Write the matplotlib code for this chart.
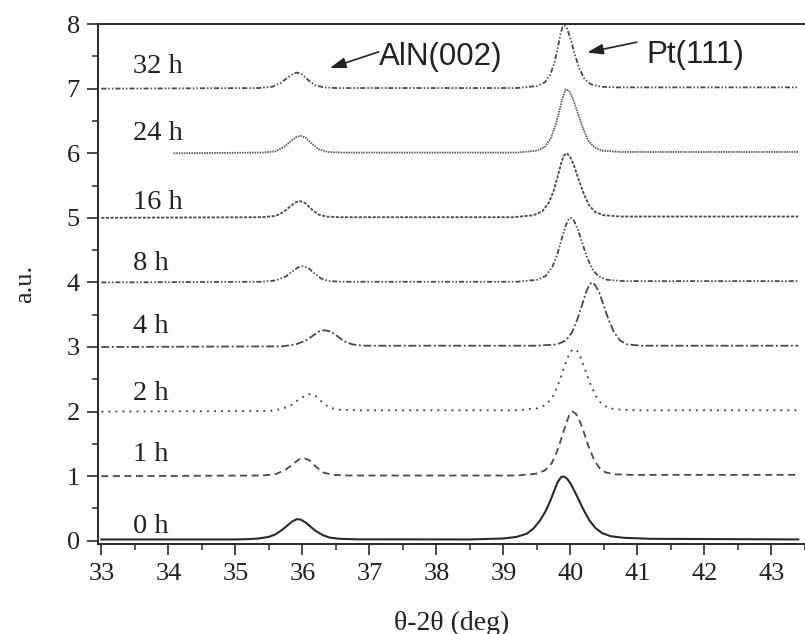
import matplotlib
matplotlib.use("Agg")
import matplotlib.pyplot as plt

# stacked XRD scans, one per annealing time
labels = ["0 h", "1 h", "2 h", "4 h", "8 h", "16 h", "24 h", "32 h"]

x_0h = [33.0, 35.0, 35.2, 35.35, 35.5, 35.6, 35.7, 35.78, 35.85, 35.92, 35.98, 36.05, 36.12, 36.2,
        36.3, 36.4, 36.55, 36.8,
        38.5, 39.0, 39.2, 39.35, 39.45, 39.55, 39.63, 39.7, 39.76, 39.81, 39.86, 39.9, 39.95, 40.0,
        40.06, 40.13, 40.2, 40.28, 40.37, 40.47, 40.6, 40.8, 41.2, 43.4]
y_0h = [0.02, 0.02, 0.025, 0.035, 0.06, 0.10, 0.17, 0.24, 0.30, 0.335, 0.325, 0.28, 0.22, 0.15,
        0.09, 0.05, 0.03, 0.022,
        0.02, 0.035, 0.06, 0.11, 0.19, 0.32, 0.46, 0.62, 0.78, 0.91, 0.985, 0.995, 0.96, 0.89,
        0.77, 0.62, 0.47, 0.32, 0.20, 0.12, 0.07, 0.045, 0.03, 0.02]

x_1h = [33.0, 35.4, 35.6, 35.75, 35.85, 35.95, 36.02, 36.1, 36.2, 36.3, 36.45, 36.7,
        39.2, 39.5, 39.62, 39.72, 39.8, 39.87, 39.93, 39.98, 40.03, 40.08, 40.14, 40.2, 40.27,
        40.35, 40.43, 40.52, 40.65, 40.9, 43.4]
y_1h = [1.0, 1.01, 1.03, 1.10, 1.18, 1.26, 1.28, 1.25, 1.15, 1.06, 1.02, 1.01,
        1.01, 1.04, 1.09, 1.20, 1.38, 1.60, 1.80, 1.94, 2.0, 1.97, 1.85, 1.68, 1.46,
        1.26, 1.13, 1.06, 1.03, 1.02, 1.02]

x_2h = [33.0, 35.5, 35.7, 35.85, 35.95, 36.05, 36.11, 36.2, 36.3, 36.4, 36.55, 36.8,
        39.2, 39.5, 39.63, 39.73, 39.81, 39.88, 39.94, 40.0, 40.05, 40.1, 40.16, 40.23, 40.3,
        40.38, 40.47, 40.58, 40.75, 41.0, 43.4]
y_2h = [2.0, 2.01, 2.04, 2.11, 2.19, 2.25, 2.27, 2.24, 2.14, 2.06, 2.03, 2.02,
        2.02, 2.05, 2.10, 2.22, 2.40, 2.60, 2.79, 2.93, 2.97, 2.94, 2.82, 2.62, 2.42,
        2.24, 2.11, 2.05, 2.03, 2.02, 2.02]

x_4h = [33.0, 35.7, 35.9, 36.05, 36.15, 36.25, 36.33, 36.42, 36.52, 36.62, 36.75, 36.9, 37.1,
        39.5, 39.8, 39.93, 40.02, 40.1, 40.17, 40.23, 40.28, 40.32, 40.37, 40.43, 40.5, 40.57,
        40.65, 40.74, 40.85, 41.05, 43.4]
y_4h = [3.0, 3.01, 3.04, 3.10, 3.17, 3.24, 3.26, 3.24, 3.17, 3.09, 3.04, 3.02, 3.02,
        3.02, 3.04, 3.10, 3.22, 3.42, 3.64, 3.84, 3.96, 4.0, 3.96, 3.84, 3.63, 3.42,
        3.23, 3.10, 3.04, 3.02, 3.02]

x_8h = [33.0, 35.4, 35.6, 35.75, 35.85, 35.93, 36.0, 36.08, 36.18, 36.28, 36.4, 36.6,
        39.2, 39.5, 39.63, 39.73, 39.8, 39.86, 39.92, 39.96, 40.0, 40.05, 40.11, 40.18, 40.25,
        40.33, 40.42, 40.55, 40.8, 43.4]
y_8h = [4.0, 4.01, 4.03, 4.09, 4.17, 4.23, 4.25, 4.23, 4.14, 4.06, 4.02, 4.01,
        4.01, 4.04, 4.10, 4.24, 4.42, 4.64, 4.85, 4.96, 5.0, 4.96, 4.82, 4.60, 4.38,
        4.20, 4.09, 4.04, 4.02, 4.02]

x_16h = [33.0, 35.4, 35.6, 35.72, 35.82, 35.9, 35.96, 36.04, 36.14, 36.24, 36.36, 36.55,
         39.15, 39.45, 39.58, 39.68, 39.75, 39.81, 39.86, 39.9, 39.94, 39.99, 40.05, 40.12, 40.2,
         40.28, 40.37, 40.5, 40.75, 43.4]
y_16h = [5.0, 5.01, 5.03, 5.09, 5.18, 5.24, 5.26, 5.23, 5.13, 5.05, 5.02, 5.01,
         5.01, 5.04, 5.10, 5.24, 5.42, 5.64, 5.84, 5.96, 6.0, 5.96, 5.82, 5.60, 5.37,
         5.19, 5.09, 5.04, 5.02, 5.02]

x_24h = [34.08, 35.4, 35.6, 35.73, 35.83, 35.91, 35.97, 36.05, 36.15, 36.25, 36.38, 36.6,
         39.2, 39.5, 39.62, 39.71, 39.78, 39.84, 39.89, 39.93, 39.98, 40.04, 40.11, 40.19,
         40.27, 40.36, 40.48, 40.75, 43.4]
y_24h = [6.0, 6.01, 6.03, 6.10, 6.19, 6.25, 6.27, 6.24, 6.14, 6.06, 6.02, 6.01,
         6.01, 6.04, 6.10, 6.24, 6.44, 6.68, 6.88, 6.99, 6.97, 6.84, 6.62, 6.38,
         6.19, 6.09, 6.04, 6.02, 6.02]

x_32h = [33.0, 35.35, 35.55, 35.68, 35.78, 35.86, 35.92, 36.0, 36.1, 36.2, 36.32, 36.5,
         39.2, 39.5, 39.62, 39.7, 39.76, 39.81, 39.85, 39.88, 39.91, 39.95, 40.0, 40.06, 40.13,
         40.21, 40.3, 40.45, 40.7, 43.4]
y_32h = [7.0, 7.01, 7.03, 7.09, 7.17, 7.23, 7.25, 7.22, 7.12, 7.05, 7.02, 7.01,
         7.01, 7.04, 7.10, 7.22, 7.40, 7.62, 7.84, 7.95, 7.98, 7.93, 7.78, 7.55, 7.32,
         7.15, 7.07, 7.03, 7.02, 7.02]

label_y = [0.12, 1.24, 2.18, 3.21, 4.19, 5.13, 6.21, 7.25]

series = [(x_0h, y_0h), (x_1h, y_1h), (x_2h, y_2h), (x_4h, y_4h),
          (x_8h, y_8h), (x_16h, y_16h), (x_24h, y_24h), (x_32h, y_32h)]

# dash patterns (in units of linewidth) and colours per curve
styles = [
    ("-", "#2a2a2a", 1.5),
    ((0, (3.9, 2.5)), "#4a4a4a", 1.3),
    ((0, (1.1, 2.8)), "#4a4a4a", 1.3),
    ((0, (4.4, 1.4, 1.1, 1.4)), "#4a4a4a", 1.3),
    ((0, (2.8, 1.1, 0.85, 1.1, 0.85, 1.1)), "#4a4a4a", 1.3),
    ((0, (1.7, 0.85)), "#4a4a4a", 1.3),
    ((0, (0.85, 0.55)), "#5a5a5a", 1.3),
    ((0, (2.8, 1.1, 0.85, 1.1, 0.85, 1.1)), "#4a4a4a", 1.3),
]

serif = ["Liberation Serif", "DejaVu Serif"]
sans = ["Liberation Sans", "DejaVu Sans"]

fig = plt.figure(figsize=(8.05, 6.34), dpi=100)
ax = fig.add_axes([0.1217, 0.142, 0.8783, 0.820])

for (xs, ys), (ls, col, lw) in zip(series, styles):
    ax.plot(xs, ys, linestyle=ls, color=col, lw=lw)

for lab, ly in zip(labels, label_y):
    ax.text(33.47, ly, lab, fontsize=20.5, family=serif, color="#222222", va="baseline", ha="left")

ax.text(37.14, 7.37, "AlN(002)", fontsize=22.5, family=sans, color="#222222", va="baseline")
ax.text(41.14, 7.40, "Pt(111)", fontsize=22.5, family=sans, color="#222222", va="baseline")

arrow = dict(arrowstyle="-|>,head_length=0.6,head_width=0.2", color="#222222", lw=1.2,
             mutation_scale=16, shrinkA=0, shrinkB=0)
ax.annotate("", xy=(36.41, 7.32), xytext=(37.14, 7.57), arrowprops=arrow)
ax.annotate("", xy=(40.25, 7.56), xytext=(40.99, 7.72), arrowprops=arrow)

ax.set_xlim(32.95, 43.36)
ax.set_ylim(-0.05, 8.0)
ax.set_xticks(range(33, 44))
ax.set_xticks([33.5 + i for i in range(11)], minor=True)
ax.set_yticks(range(0, 9))
ax.set_yticks([0.5 + i for i in range(8)], minor=True)

ax.spines["right"].set_visible(False)
for s in ("left", "bottom", "top"):
    ax.spines[s].set_linewidth(1.4)
    ax.spines[s].set_color("#2a2a2a")

ax.tick_params(which="major", direction="out", length=8, width=1.2, color="#2a2a2a",
               labelsize=19, labelcolor="#222222")
ax.tick_params(which="minor", direction="out", length=4.3, width=1.1, color="#2a2a2a")
ax.tick_params(axis="x", which="major", pad=6)
ax.tick_params(axis="y", which="major", pad=5)
for t in ax.get_xticklabels() + ax.get_yticklabels():
    t.set_family(serif)

ax.set_xlabel("θ-2θ (deg)", fontsize=20, family=serif, color="#222222", labelpad=18)
ax.set_ylabel("a.u.", fontsize=19, family=serif, color="#222222", labelpad=22)

fig.savefig("out.png", dpi=100)
